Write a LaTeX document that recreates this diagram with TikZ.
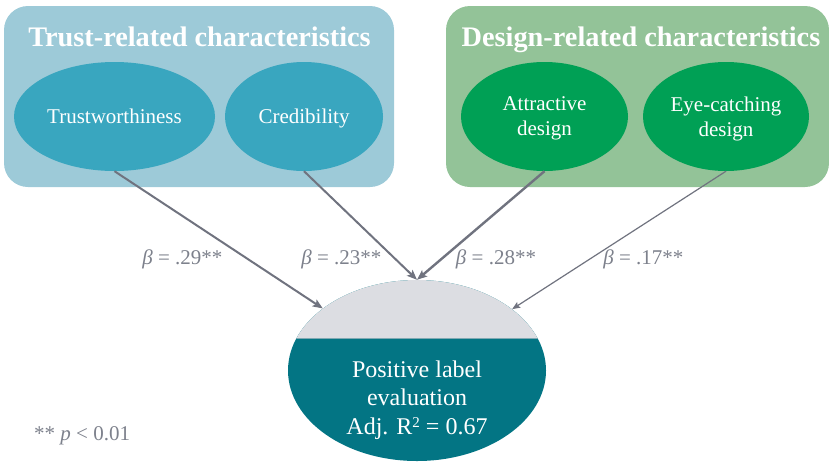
\documentclass[tikz,border=0pt]{standalone}
\usepackage{fontspec}
\setmainfont{Liberation Serif}
\usetikzlibrary{shapes.geometric,arrows.meta}

\definecolor{trustbox}{HTML}{9DCAD8}
\definecolor{trustnode}{HTML}{39A6BF}
\definecolor{designbox}{HTML}{93C398}
\definecolor{designnode}{HTML}{00A055}
\definecolor{outcome}{HTML}{037584}
\definecolor{outcometop}{HTML}{DCDDE2}
\definecolor{splitline}{HTML}{7FA9B3}
\definecolor{pathline}{HTML}{70737F}
\definecolor{pathtext}{HTML}{7D818C}

\begin{document}
\begin{tikzpicture}[x=1pt,y=-1pt,
  groupbox/.style={rounded corners=24pt,inner sep=0pt},
  grouptitle/.style={text=white,anchor=base,inner sep=0pt,
    font=\fontsize{28.3}{30}\selectfont\bfseries},
  factor/.style={ellipse,inner sep=0pt,text=white,align=center,text depth=0pt,
    minimum height=109pt,font=\fontsize{21}{25}\selectfont},
  coef/.style={text=pathtext,anchor=base,inner sep=0pt,
    font=\fontsize{21}{24}\selectfont},
  effect/.style={draw=pathline,line width=2pt,
    -{Stealth[length=10pt,width=8pt,inset=2pt]}}
]
\useasboundingbox (0,0) rectangle (829,461);

% group panels
\node[groupbox,fill=trustbox,minimum width=390pt,minimum height=181pt]
  (trust) at (199,96.5) {};
\node[groupbox,fill=designbox,minimum width=383pt,minimum height=181pt]
  (design) at (637.5,96.5) {};
\node[grouptitle] (trusttitle) at (199.5,46) {Trust-related characteristics};
\node[grouptitle] (designtitle) at (641,46) {Design-related characteristics};

% predictors
\node[factor,fill=trustnode,minimum width=201pt] (trw) at (114.5,116.5) {Trustworthiness};
\node[factor,fill=trustnode,minimum width=158pt] (cred) at (304,116.5) {Credibility};
\node[factor,fill=designnode,minimum width=167pt] (attr) at (544.5,116.5) {Attractive\\design};
\node[factor,fill=designnode,minimum width=166pt] (eye) at (726,116.5) {Eye-catching\\design};

% outcome: grey cap over a teal body
\node[ellipse,fill=outcome,inner sep=0pt,minimum width=258pt,minimum height=181pt,
  path picture={
    \fill[outcometop] ([yshift=1pt]path picture bounding box.north west)
      rectangle ([yshift=32.5pt]path picture bounding box.east);
    \draw[splitline,line width=1pt]
      ([yshift=32.5pt]path picture bounding box.west)
      -- ([yshift=32.5pt]path picture bounding box.east);
  }] (outcome) at (417,370.5) {};
\node[text=white,align=center,inner sep=0pt,font=\fontsize{24}{28.5}\selectfont]
  (outcomelabel) at (417,400)
  {Positive label\\evaluation\\Adj. R\raisebox{6.5pt}{\fontsize{15}{15}\selectfont 2} = 0.67};

% paths
\draw[effect] (trw.south) -- (outcome);
\draw[effect] (cred.south) -- (outcome.north);
\draw[effect,line width=2.4pt] (attr.south) -- (outcome.north);
\draw[draw=pathline,line width=1.2pt,-{Stealth[length=8pt,width=6.5pt,inset=1.5pt]}]
  (eye.south) -- (outcome);

% coefficients
\node[coef] (b1) at (182.4,264) {\textit{β} = .29**};
\node[coef] (b2) at (341.4,264) {\textit{β} = .23**};
\node[coef] (b3) at (496,264) {\textit{β} = .28**};
\node[coef] (b4) at (643.4,264) {\textit{β} = .17**};

\node[coef,anchor=base west] (note) at (34,440.7) {** \textit{p} < 0.01};
\end{tikzpicture}
\end{document}
